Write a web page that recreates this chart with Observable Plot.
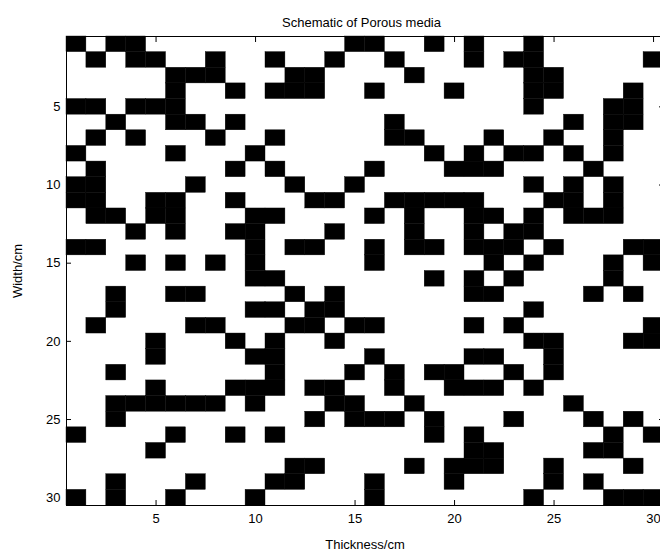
<!DOCTYPE html>
<html><head><meta charset="utf-8">
<script src="https://cdn.jsdelivr.net/npm/d3@7"></script>
<script src="https://cdn.jsdelivr.net/npm/@observablehq/plot@0.6"></script>
<style>
html,body{margin:0;padding:0;background:#fff;overflow:hidden;}
#wrap{position:relative;width:660px;height:557px;}
#title{position:absolute;top:15px;left:63px;width:597px;text-align:center;font:13px "Liberation Sans",Arial,sans-serif;line-height:16px;color:#000;z-index:2;}
</style></head><body>
<div id="wrap"><div id="title">Schematic of Porous media</div></div>
<script>
// Tick values
const xTicks = [5, 10, 15, 20, 25, 30];
const yTicks = [5, 10, 15, 20, 25, 30];
// Black (solid) cells: for each row (1..30, top to bottom), the columns that are solid
const blackCols = [
  [1,3,4,15,16,19,21,24],
  [2,4,5,8,11,14,17,21,23,24,30],
  [6,7,8,12,13,18,24,25],
  [6,9,11,12,13,16,20,24,25,29],
  [1,2,4,5,6,24,28,29],
  [3,6,7,9,17,26,28,29],
  [2,4,8,11,17,18,22,25,28],
  [1,6,10,19,21,23,24,26,28],
  [2,9,11,16,20,21,22,27],
  [1,2,7,12,15,24,26,28],
  [1,2,5,6,9,13,14,17,18,19,20,21,25,26,28],
  [2,3,5,6,10,11,16,18,21,22,24,26,27,28],
  [4,6,9,10,14,18,21,23,24],
  [1,2,10,12,13,16,18,19,21,22,23,25,29,30],
  [4,6,8,10,16,22,24,28,30],
  [10,11,19,21,23,28],
  [3,6,7,12,14,21,22,27,29],
  [3,10,11,13,14,24],
  [2,7,8,12,13,15,16,21,23,30],
  [5,9,11,14,24,25,29,30],
  [5,10,11,16,21,22,25],
  [3,11,15,17,19,20,23,25],
  [5,9,10,11,13,14,17,20,21,22,24],
  [3,4,5,6,7,8,10,14,15,18,26],
  [3,13,15,16,17,19,23,27,29],
  [1,6,9,11,19,21,28,30],
  [5,21,22,27,28],
  [12,13,18,20,21,22,25,29],
  [3,7,11,12,16,20,25,27],
  [1,3,6,10,16,24,28,29,30]
];
const cells = blackCols.flatMap((cols, i) => cols.map(c => ({row: i + 1, col: c})));

const chart = Plot.plot({
  width: 660, height: 557,
  marginTop: 36, marginBottom: 52, marginLeft: 66, marginRight: -3,
  style: {fontFamily: '"Liberation Sans", Arial, sans-serif', fontSize: "13px", color: "#000", background: "#fff", overflow: "hidden"},
  x: {domain: [0.5, 30.5]},
  y: {domain: [0.5, 30.5], reverse: true},
  marks: [
    Plot.rect(cells, {x1: d => d.col - 0.5, x2: d => d.col + 0.5, y1: d => d.row - 0.5, y2: d => d.row + 0.5, fill: "black", stroke: "black", strokeWidth: 0.4}),
    Plot.frame({stroke: "black", strokeWidth: 1}),
    Plot.axisX(xTicks, {anchor: "bottom", tickSize: 0, tickPadding: 8, label: "Thickness/cm", labelAnchor: "center", labelArrow: "none", labelOffset: 43, fontSize: 13}),
    Plot.axisX(xTicks, {anchor: "bottom", tickSize: -5, tickFormat: () => "", label: null}),
    Plot.axisX(xTicks, {anchor: "top", tickSize: -5, tickFormat: () => "", label: null}),
    Plot.axisY(yTicks, {anchor: "left", tickSize: 0, tickPadding: 6, label: "Width/cm", labelAnchor: "center", labelArrow: "none", labelOffset: 54, fontSize: 13}),
    Plot.axisY(yTicks, {anchor: "left", tickSize: -5, tickFormat: () => "", label: null}),
    Plot.axisY(yTicks, {anchor: "right", tickSize: -5, tickFormat: () => "", label: null})
  ]
});
document.getElementById("wrap").appendChild(chart);
</script>
</body></html>
